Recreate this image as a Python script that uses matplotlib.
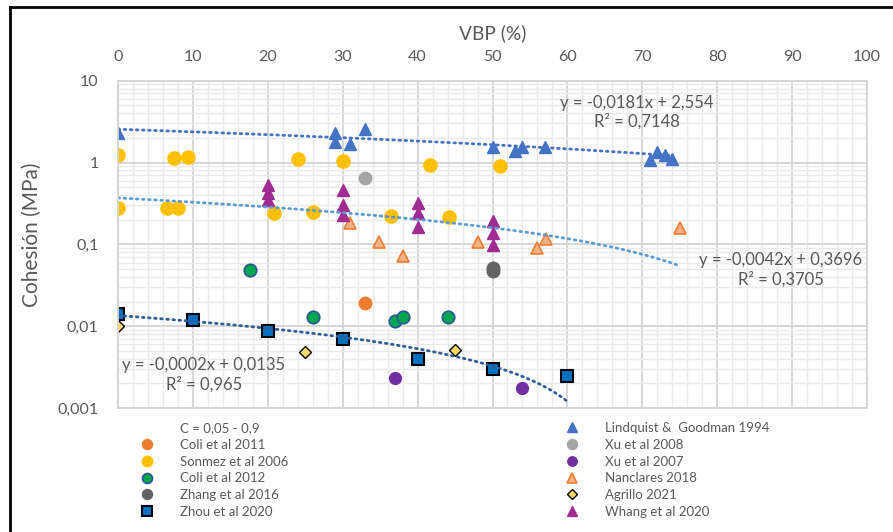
import numpy as np
import matplotlib
matplotlib.use("Agg")
import matplotlib.pyplot as plt
from matplotlib.lines import Line2D
from matplotlib.ticker import MultipleLocator, LogLocator, FixedLocator, NullFormatter

plt.rcParams["font.family"] = ["Lato", "DejaVu Sans"]
TXT = "#595959"

# Datos (VBP en %, cohesión en MPa)
lind_x = [0, 29, 29, 31, 33, 50, 53, 54, 57, 71, 72, 73, 74]
lind_y = [2.3, 2.3, 1.8, 1.67, 2.55, 1.56, 1.39, 1.56, 1.56, 1.07, 1.36, 1.22, 1.09]

coli11_x = [33]
coli11_y = [0.0191]

sonmez_x = [0, 7.5, 9.3, 24, 30, 41.6, 51, 0, 6.6, 8, 20.8, 26.1, 36.4, 44.2]
sonmez_y = [1.25, 1.13, 1.17, 1.11, 1.04, 0.94, 0.91, 0.278, 0.278, 0.278, 0.239, 0.246, 0.222, 0.213]

coli12_x = [17.6, 26, 37, 38, 44]
coli12_y = [0.049, 0.0128, 0.0116, 0.013, 0.013]

zhang_x = [50, 50]
zhang_y = [0.052, 0.047]

zhou_x = [0, 10, 20, 30, 40, 50, 60]
zhou_y = [0.0139, 0.0118, 0.0088, 0.00695, 0.00396, 0.003, 0.00248]

xu08_x = [33]
xu08_y = [0.64]

xu07_x = [37, 54]
xu07_y = [0.00234, 0.00177]

nanc_x = [31, 34.9, 38, 48, 55.9, 57.1, 75]
nanc_y = [0.184, 0.108, 0.073, 0.108, 0.091, 0.115, 0.157]

agr_x = [0, 25, 45]
agr_y = [0.01, 0.0048, 0.0051]

whang_x = [20, 20, 20, 30, 30, 30, 40, 40, 40, 50, 50, 50]
whang_y = [0.531, 0.424, 0.348, 0.461, 0.302, 0.228, 0.323, 0.239, 0.164, 0.195, 0.139, 0.098]

# Líneas de tendencia (pendiente, ordenada, x final)
trend_top = (-0.0181, 2.554, 74)
trend_mid = (-0.0042, 0.3696, 75)
trend_low = (-0.000205, 0.0135, 60)

y_ticks = [0.001, 0.01, 0.1, 1, 10]
y_labels = ["0,001", "0,01", "0,1", "1", "10"]

fig = plt.figure(figsize=(8.93, 5.32), dpi=100)
ax = fig.add_axes([118 / 893, 1 - 408 / 532, 749 / 893, 327.3 / 532])
ax.set_yscale("log")
ax.set_xlim(0, 100)
ax.set_ylim(0.001, 10)

ax.set_axisbelow(True)
ax.xaxis.set_major_locator(MultipleLocator(10))
ax.xaxis.set_minor_locator(MultipleLocator(2))
ax.yaxis.set_major_locator(FixedLocator(y_ticks))
ax.yaxis.set_minor_locator(LogLocator(base=10, subs=np.arange(2, 10)))
ax.yaxis.set_minor_formatter(NullFormatter())
ax.set_yticklabels(y_labels)
ax.grid(which="major", color="#D4D4D4", lw=1.3)
ax.grid(which="minor", color="#EAEAEA", lw=1.0)
for s in ax.spines.values():
    s.set_color("#D4D4D4")
    s.set_linewidth(1.3)

ax.xaxis.tick_top()
ax.xaxis.set_label_position("top")
ax.tick_params(which="both", length=0, labelsize=11.5, labelcolor=TXT)
ax.tick_params(axis="x", pad=12)
ax.tick_params(axis="y", pad=14)
ax.set_xlabel("VBP (%)", fontsize=13.8, color=TXT, labelpad=8)
ax.set_ylabel("Cohesión (MPa)", fontsize=15, color=TXT)
ax.yaxis.set_label_coords(-0.101, 0.53)

# Series
ms = 9
h_lind, = ax.plot(lind_x, lind_y, "^", color="#4472C4", ms=ms, ls="none", label="Lindquist &  Goodman 1994")
h_c11, = ax.plot(coli11_x, coli11_y, "o", color="#ED7D31", ms=ms, ls="none", label="Coli et al 2011")
h_son, = ax.plot(sonmez_x, sonmez_y, "o", color="#FFC000", ms=ms + 0.5, ls="none", label="Sonmez et al 2006")
h_c12, = ax.plot(coli12_x, coli12_y, "o", mfc="#00A650", mec="#2F5597", mew=1.2, ms=ms, ls="none", label="Coli et al 2012")
h_zh, = ax.plot(zhang_x, zhang_y, "o", color="#636363", ms=ms, ls="none", label="Zhang et al 2016")
h_x08, = ax.plot(xu08_x, xu08_y, "o", color="#A5A5A5", ms=ms, ls="none", label="Xu et al 2008")
h_x07, = ax.plot(xu07_x, xu07_y, "o", color="#7030A0", ms=ms - 0.5, ls="none", label="Xu et al 2007")
h_nan, = ax.plot(nanc_x, nanc_y, "^", mfc="#F4B183", mec="#ED7D31", mew=1.2, ms=ms, ls="none", label="Nanclares 2018")
h_wh, = ax.plot(whang_x, whang_y, "^", color="#A02B93", ms=ms, ls="none", label="Whang et al 2020")
h_zhou, = ax.plot(zhou_x, zhou_y, "s", mfc="#0070C0", mec="black", mew=1.5, ms=ms, ls="none", label="Zhou et al 2020")
h_agr, = ax.plot(agr_x, agr_y, "D", mfc="#FFD966", mec="black", mew=1.0, ms=6, ls="none", label="Agrillo 2021")

# Tendencias
for (m, b, xe), col in [(trend_top, "#4472C4"), (trend_mid, "#5B9BD5"), (trend_low, "#2E5E9A")]:
    xs = np.linspace(0, xe, 200)
    ax.plot(xs, m * xs + b, color=col, lw=2, ls=(0, (0.6, 1.6)), dash_capstyle="round")

ax.text(0.693, 0.904, "y = -0,0181x + 2,554\nR² = 0,7148", transform=ax.transAxes,
        ha="center", va="center", fontsize=12, color=TXT, linespacing=1.2)
ax.text(0.885, 0.4216, "y = -0,0042x + 0,3696\nR² = 0,3705", transform=ax.transAxes,
        ha="center", va="center", fontsize=12, color=TXT, linespacing=1.2)
ax.text(0.1148, 0.1017, "y = -0,0002x + 0,0135\nR² = 0,965", transform=ax.transAxes,
        ha="center", va="center", fontsize=12, color=TXT, linespacing=1.2)

# Leyenda (dos columnas)
h_c = Line2D([], [], ls="none", marker=None, label="C = 0,05 - 0,9")
leg_kw = dict(frameon=False, fontsize=9.5, labelcolor=TXT, handlelength=0.95, handletextpad=2.0,
              borderpad=0, borderaxespad=0, labelspacing=0.36, markerscale=0.8, loc="upper left",
              bbox_transform=fig.transFigure)
leg1 = ax.legend(handles=[h_c, h_c11, h_son, h_c12, h_zh, h_zhou], bbox_to_anchor=(141 / 893, 1 - 422 / 532), **leg_kw)
ax.add_artist(leg1)
ax.legend(handles=[h_lind, h_x08, h_x07, h_nan, h_agr, h_wh], bbox_to_anchor=(566 / 893, 1 - 422 / 532), **leg_kw)

# Marco exterior
fig.add_artist(Line2D([10 / 893, 10 / 893], [0, 1 - 7 / 532], color="black", lw=2))
fig.add_artist(Line2D([10 / 893, 1], [1 - 7 / 532, 1 - 7 / 532], color="black", lw=2))

fig.savefig("out.png", dpi=100)
